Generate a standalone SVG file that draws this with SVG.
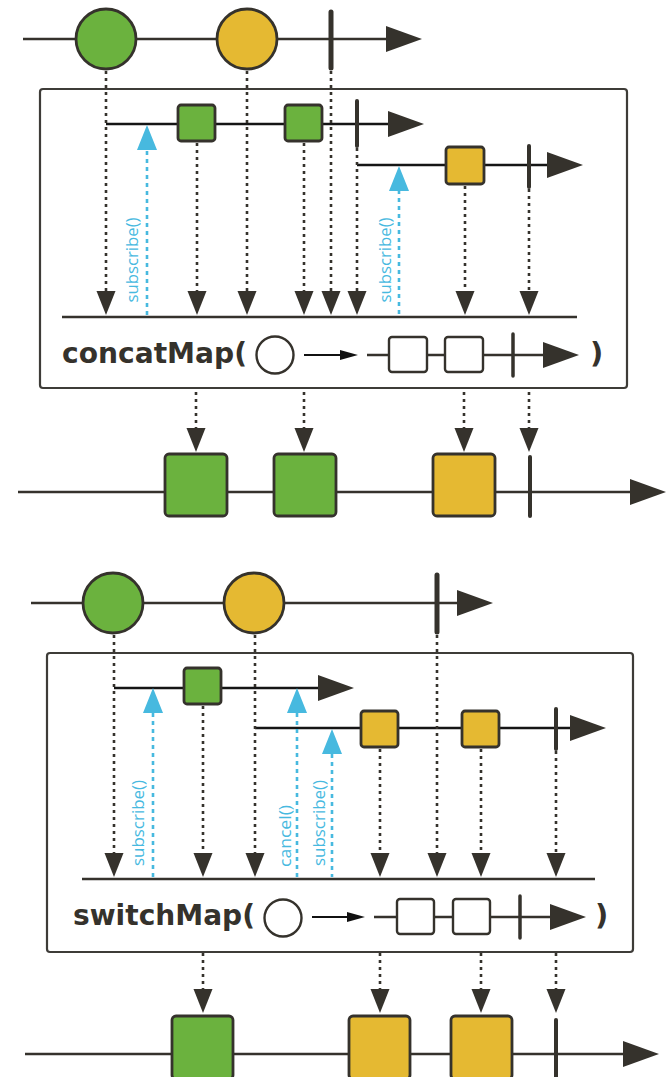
<svg xmlns="http://www.w3.org/2000/svg" xmlns:xlink="http://www.w3.org/1999/xlink" width="669" height="1077" viewBox="0 0 669 1077">
<style>
.tl{stroke:#35322c;stroke-width:2.6;fill:none}
.il{stroke:#151515;stroke-width:2.6;fill:none}
.box{stroke:#3e3c38;stroke-width:2.2;fill:#fff}
.dot{stroke:#35322c;stroke-width:2.6;stroke-dasharray:3 4;fill:none}
.blu{stroke:#47b9df;stroke-width:2.6;stroke-dasharray:4 4;fill:none}
.bar{stroke:#35322c;stroke-linecap:round;fill:none}
.g{fill:#6bb23e;stroke:#35322c;stroke-width:2.8}
.y{fill:#e5b932;stroke:#35322c;stroke-width:2.8}
.w{fill:#fff;stroke:#35322c;stroke-width:2.4}
.hd{fill:#35322c}
.bh{fill:#47b9df}
.lbl{font-family:"DejaVu Sans","Liberation Sans",sans-serif;font-weight:bold;font-size:29px;fill:#35322c}
.sub{font-family:"Open Sans","Liberation Sans",sans-serif;font-size:17px;fill:#47b9df}
</style>
<defs>
<path id="dn" d="M-9.5,-24 L9.5,-24 L0,0 Z"/>
<path id="up" d="M0,0 L10,25 L-10,25 Z"/>
<path id="ra" d="M0,-13 L36,0 L0,13 Z"/>
<path id="sa" d="M0,-5 L18,0 L0,5 Z"/>
</defs>

<!-- ============ concatMap section ============ -->
<g id="cm-source">
<line class="tl" x1="23" y1="39" x2="390" y2="39"/>
<use href="#ra" x="386" y="39" class="hd"/>
<circle class="g" cx="106" cy="39" r="30"/>
<circle class="y" cx="247" cy="39" r="30"/>
<line class="bar" x1="331" y1="12" x2="331" y2="68" stroke-width="5"/>
</g>

<g id="cm-box">
<rect class="box" x="40" y="89" width="587" height="299" rx="3"/>
</g>

<g id="cm-inner1">
<line class="il" x1="106" y1="124" x2="392" y2="124"/>
<use href="#ra" x="388" y="124" class="hd"/>
<rect class="g" x="178" y="105" width="37" height="36" rx="3"/>
<rect class="g" x="285" y="105" width="37" height="36" rx="3"/>
<line class="bar" x1="357" y1="101" x2="357" y2="146" stroke-width="4"/>
</g>

<g id="cm-inner2">
<line class="il" x1="357" y1="165" x2="550" y2="165"/>
<use href="#ra" x="547" y="165" class="hd"/>
<rect class="y" x="446" y="147" width="38" height="37" rx="3"/>
<line class="bar" x1="529" y1="146" x2="529" y2="187" stroke-width="4"/>
</g>

<g id="cm-baseline">
<line class="tl" x1="62" y1="317" x2="577" y2="317"/>
</g>

<g id="cm-connectors">
<line class="dot" x1="106" y1="71" x2="106" y2="292"/>
<line class="dot" x1="197" y1="143" x2="197" y2="292"/>
<line class="dot" x1="247" y1="71" x2="247" y2="292"/>
<line class="dot" x1="304" y1="143" x2="304" y2="292"/>
<line class="dot" x1="331" y1="71" x2="331" y2="292"/>
<line class="dot" x1="357" y1="148" x2="357" y2="292"/>
<line class="dot" x1="465" y1="186" x2="465" y2="292"/>
<line class="dot" x1="529" y1="189" x2="529" y2="292"/>
<g class="hd">
<use href="#dn" x="106" y="315"/>
<use href="#dn" x="197" y="315"/>
<use href="#dn" x="247" y="315"/>
<use href="#dn" x="304" y="315"/>
<use href="#dn" x="331" y="315"/>
<use href="#dn" x="357" y="315"/>
<use href="#dn" x="465" y="315"/>
<use href="#dn" x="529" y="315"/>
</g>
<line class="blu" x1="147" y1="151" x2="147" y2="316"/>
<line class="blu" x1="399" y1="190" x2="399" y2="316"/>
<g class="bh">
<use href="#up" x="147" y="125"/>
<use href="#up" x="399" y="166"/>
</g>
<line class="dot" x1="196" y1="392" x2="196" y2="429"/>
<line class="dot" x1="304" y1="392" x2="304" y2="429"/>
<line class="dot" x1="464" y1="392" x2="464" y2="429"/>
<line class="dot" x1="529" y1="392" x2="529" y2="429"/>
<g class="hd">
<use href="#dn" x="196" y="452"/>
<use href="#dn" x="304" y="452"/>
<use href="#dn" x="464" y="452"/>
<use href="#dn" x="529" y="452"/>
</g>
</g>

<g id="cm-sub1"><text class="sub" transform="translate(138,260) rotate(-90)" text-anchor="middle" textLength="85" lengthAdjust="spacingAndGlyphs">subscribe()</text></g>
<g id="cm-sub2"><text class="sub" transform="translate(391,260) rotate(-90)" text-anchor="middle" textLength="85" lengthAdjust="spacingAndGlyphs">subscribe()</text></g>

<g id="cm-label">
<text class="lbl" x="62" y="363" textLength="185" lengthAdjust="spacingAndGlyphs">concatMap(</text>
<circle class="w" cx="275" cy="355" r="18.5"/>
<line x1="304" y1="355" x2="342" y2="355" stroke="#111" stroke-width="1.8"/>
<use href="#sa" x="340" y="355" fill="#111"/>
<line class="tl" x1="367" y1="355" x2="546" y2="355"/>
<use href="#ra" x="543" y="355" class="hd"/>
<rect class="w" x="389" y="337" width="38" height="35" rx="3"/>
<rect class="w" x="445" y="337" width="38" height="35" rx="3"/>
<line class="bar" x1="513" y1="334" x2="513" y2="376" stroke-width="3.5"/>
<text class="lbl" x="590" y="363">)</text>
</g>

<g id="cm-output">
<line class="tl" x1="18" y1="492" x2="634" y2="492" stroke-width="3"/>
<use href="#ra" x="630" y="492" class="hd"/>
<rect class="g" x="165" y="454" width="62" height="62" rx="4"/>
<rect class="g" x="274" y="454" width="62" height="62" rx="4"/>
<rect class="y" x="433" y="454" width="62" height="62" rx="4"/>
<line class="bar" x1="530" y1="457" x2="530" y2="516" stroke-width="4"/>
</g>

<!-- ============ switchMap section ============ -->
<g id="sm-source">
<line class="tl" x1="31" y1="603" x2="460" y2="603"/>
<use href="#ra" x="457" y="603" class="hd"/>
<circle class="g" cx="113" cy="603" r="30"/>
<circle class="y" cx="254" cy="603" r="30"/>
<line class="bar" x1="437" y1="575" x2="437" y2="632" stroke-width="5"/>
</g>

<g id="sm-box">
<rect class="box" x="47" y="653" width="586" height="299" rx="3"/>
</g>

<g id="sm-inner1">
<line class="il" x1="114" y1="688" x2="321" y2="688"/>
<use href="#ra" x="318" y="688" class="hd"/>
<rect class="g" x="184" y="668" width="37" height="36" rx="3"/>
</g>

<g id="sm-inner2">
<line class="il" x1="255" y1="728" x2="573" y2="728"/>
<use href="#ra" x="570" y="728" class="hd"/>
<rect class="y" x="361" y="711" width="37" height="36" rx="3"/>
<rect class="y" x="462" y="711" width="37" height="36" rx="3"/>
<line class="bar" x1="556" y1="709" x2="556" y2="749" stroke-width="4"/>
</g>

<g id="sm-baseline">
<line class="tl" x1="82" y1="879" x2="595" y2="879"/>
</g>

<g id="sm-connectors">
<line class="dot" x1="114" y1="635" x2="114" y2="855"/>
<line class="dot" x1="203" y1="706" x2="203" y2="855"/>
<line class="dot" x1="255" y1="635" x2="255" y2="855"/>
<line class="dot" x1="380" y1="749" x2="380" y2="855"/>
<line class="dot" x1="437" y1="635" x2="437" y2="855"/>
<line class="dot" x1="481" y1="749" x2="481" y2="855"/>
<line class="dot" x1="556" y1="751" x2="556" y2="855"/>
<g class="hd">
<use href="#dn" x="114" y="877"/>
<use href="#dn" x="203" y="877"/>
<use href="#dn" x="255" y="877"/>
<use href="#dn" x="380" y="877"/>
<use href="#dn" x="437" y="877"/>
<use href="#dn" x="481" y="877"/>
<use href="#dn" x="556" y="877"/>
</g>
<line class="blu" x1="153" y1="713" x2="153" y2="877"/>
<line class="blu" x1="297" y1="713" x2="297" y2="877"/>
<line class="blu" x1="332" y1="754" x2="332" y2="877"/>
<g class="bh">
<use href="#up" x="153" y="688"/>
<use href="#up" x="297" y="688"/>
<use href="#up" x="332" y="729"/>
</g>
<line class="dot" x1="203" y1="953" x2="203" y2="990"/>
<line class="dot" x1="380" y1="953" x2="380" y2="990"/>
<line class="dot" x1="481" y1="953" x2="481" y2="990"/>
<line class="dot" x1="556" y1="953" x2="556" y2="990"/>
<g class="hd">
<use href="#dn" x="203" y="1013"/>
<use href="#dn" x="380" y="1013"/>
<use href="#dn" x="481" y="1013"/>
<use href="#dn" x="556" y="1013"/>
</g>
</g>

<g id="sm-sub1"><text class="sub" transform="translate(144,823) rotate(-90)" text-anchor="middle" textLength="86" lengthAdjust="spacingAndGlyphs">subscribe()</text></g>
<g id="sm-cancel"><text class="sub" transform="translate(291,836) rotate(-90)" text-anchor="middle" textLength="62" lengthAdjust="spacingAndGlyphs">cancel()</text></g>
<g id="sm-sub2"><text class="sub" transform="translate(325,823) rotate(-90)" text-anchor="middle" textLength="86" lengthAdjust="spacingAndGlyphs">subscribe()</text></g>

<g id="sm-label">
<text class="lbl" x="73" y="925" textLength="182" lengthAdjust="spacingAndGlyphs">switchMap(</text>
<circle class="w" cx="283" cy="918" r="18.5"/>
<line x1="312" y1="917" x2="349" y2="917" stroke="#111" stroke-width="1.8"/>
<use href="#sa" x="347" y="917" fill="#111"/>
<line class="tl" x1="374" y1="917" x2="554" y2="917"/>
<use href="#ra" x="550" y="917" class="hd"/>
<rect class="w" x="397" y="899" width="37" height="35" rx="3"/>
<rect class="w" x="453" y="899" width="37" height="35" rx="3"/>
<line class="bar" x1="520" y1="896" x2="520" y2="938" stroke-width="3.5"/>
<text class="lbl" x="595" y="925">)</text>
</g>

<g id="sm-output">
<line class="tl" x1="25" y1="1054" x2="627" y2="1054" stroke-width="3"/>
<use href="#ra" x="623" y="1054" class="hd"/>
<rect class="g" x="172" y="1016" width="61" height="63" rx="4"/>
<rect class="y" x="349" y="1016" width="61" height="63" rx="4"/>
<rect class="y" x="451" y="1016" width="61" height="63" rx="4"/>
<line class="bar" x1="556" y1="1020" x2="556" y2="1085" stroke-width="4"/>
</g>
</svg>
